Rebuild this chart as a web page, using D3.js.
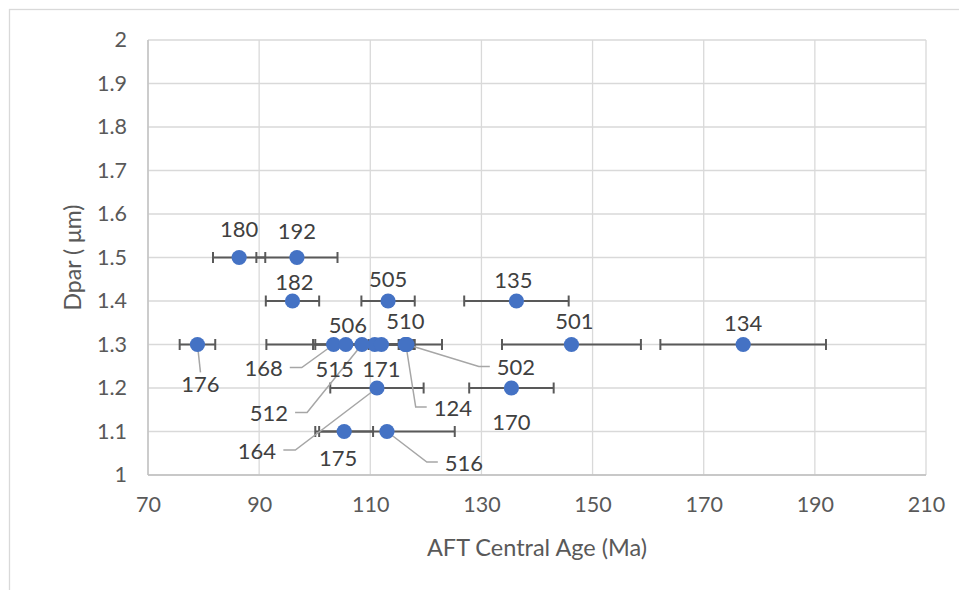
<!DOCTYPE html>
<html>
<head>
<meta charset="utf-8">
<script src="https://cdn.jsdelivr.net/npm/d3@7/dist/d3.min.js"></script>
<style>
  html, body { margin: 0; padding: 0; background: #ffffff; }
  svg { display: block; font-family: Lato, "Open Sans", "Noto Sans", sans-serif; }
</style>
</head>
<body>
<svg id="chart" width="959" height="590"></svg>
<script>
// Apatite fission-track samples: id, central age (Ma), ± age error (Ma), mean Dpar (µm)
const sampleIds = ["180", "192", "182", "505", "135", "176", "168", "515", "506", "512",
                   "171", "510", "502", "124", "501", "134", "164", "170", "175", "516"];
const centralAge = [86.4, 96.8, 96.0, 113.2, 136.3, 78.9, 103.4, 110.8, 105.6, 108.5,
                    112.0, 116.3, 116.6, 116.4, 146.2, 177.1, 111.2, 135.4, 105.3, 113.0];
const ageError   = [4.7, 7.3, 4.8, 4.8, 9.4, 3.2, 12.1, 4.5, 5.9, 8.4,
                    3.5, 6.6, 1.4, 1.3, 12.5, 14.9, 8.4, 7.6, 5.2, 12.2];
const dpar       = [1.5, 1.5, 1.4, 1.4, 1.4, 1.3, 1.3, 1.3, 1.3, 1.3,
                    1.3, 1.3, 1.3, 1.3, 1.3, 1.3, 1.2, 1.2, 1.1, 1.1];

const xTicks = [70, 90, 110, 130, 150, 170, 190, 210];
const yTicks = [1, 1.1, 1.2, 1.3, 1.4, 1.5, 1.6, 1.7, 1.8, 1.9, 2];

// Label placement (pixel offset of the label centre from its point) and leader style
const labelPlacement = {
  "180": { dx: 0,    dy: -28 },
  "192": { dx: 0,    dy: -26 },
  "182": { dx: 2,    dy: -19 },
  "505": { dx: 0,    dy: -22 },
  "135": { dx: -3,   dy: -21 },
  "176": { dx: 3,    dy: 40,  leader: "top" },
  "168": { dx: -70,  dy: 24,  leader: "right" },
  "515": { dx: -40,  dy: 25 },
  "506": { dx: 2,    dy: -19 },
  "512": { dx: -93,  dy: 69,  leader: "right" },
  "171": { dx: 0,    dy: 25 },
  "510": { dx: 0,    dy: -23.5 },
  "502": { dx: 109,  dy: 23,  leader: "left" },
  "124": { dx: 47,   dy: 63.5, leader: "left" },
  "501": { dx: 3,    dy: -23 },
  "134": { dx: 0,    dy: -21.5 },
  "164": { dx: -120, dy: 63,  leader: "right" },
  "170": { dx: 0,    dy: 34 },
  "175": { dx: -6,   dy: 26.5 },
  "516": { dx: 77,   dy: 31.5, leader: "left" }
};

const samples = sampleIds.map((id, i) => ({
  id, age: centralAge[i], err: ageError[i], dpar: dpar[i]
}));

const W = 959, H = 590;
const plot = { left: 148, right: 926, top: 40, bottom: 475 };

const svg = d3.select("#chart");

// outer chart frame
svg.append("rect")
  .attr("x", 9.5).attr("y", 9.5)
  .attr("width", W + 20).attr("height", H + 20)
  .attr("fill", "#ffffff").attr("stroke", "#d9d9d9").attr("stroke-width", 1.3);

const x = d3.scaleLinear().domain([70, 210]).range([plot.left, plot.right]);
const y = d3.scaleLinear().domain([1, 2]).range([plot.bottom, plot.top]);

// gridlines
const grid = svg.append("g").attr("stroke", "#d9d9d9").attr("stroke-width", 1.3);
grid.selectAll("line.v").data(xTicks).join("line")
  .attr("class", "v")
  .attr("x1", d => x(d)).attr("x2", d => x(d))
  .attr("y1", plot.top).attr("y2", plot.bottom);
grid.selectAll("line.h").data(yTicks).join("line")
  .attr("class", "h")
  .attr("x1", plot.left).attr("x2", plot.right)
  .attr("y1", d => y(d)).attr("y2", d => y(d));

// axis lines
svg.append("line")
  .attr("x1", plot.left).attr("x2", plot.left)
  .attr("y1", plot.top).attr("y2", plot.bottom)
  .attr("stroke", "#bfbfbf").attr("stroke-width", 1.3);
svg.append("line")
  .attr("x1", plot.left).attr("x2", plot.right)
  .attr("y1", plot.bottom).attr("y2", plot.bottom)
  .attr("stroke", "#bfbfbf").attr("stroke-width", 1.3);

// axes (tick labels only)
const fmt = d3.format("~g");
const xAxis = svg.append("g")
  .attr("transform", `translate(0,${plot.bottom})`)
  .call(d3.axisBottom(x).tickValues(xTicks).tickFormat(fmt).tickSize(0).tickPadding(22));
const yAxis = svg.append("g")
  .attr("transform", `translate(${plot.left},0)`)
  .call(d3.axisLeft(y).tickValues(yTicks).tickFormat(fmt).tickSize(0).tickPadding(21));
[xAxis, yAxis].forEach(g => {
  g.select(".domain").remove();
  g.selectAll("text")
    .attr("fill", "#595959")
    .style("font-size", "21.5px")
    .style("font-family", "Lato, 'Open Sans', sans-serif");
});

// axis titles
svg.append("text")
  .attr("x", (plot.left + plot.right) / 2).attr("y", 548)
  .attr("dy", "0.35em")
  .attr("text-anchor", "middle")
  .attr("fill", "#595959")
  .style("font-size", "23.5px")
  .text("AFT Central Age (Ma)");
svg.append("text")
  .attr("transform", `translate(73,${(plot.top + plot.bottom) / 2}) rotate(-90)`)
  .attr("dy", "0.35em")
  .attr("text-anchor", "middle")
  .attr("fill", "#595959")
  .style("font-size", "23px")
  .text("Dpar ( μm)");

// horizontal error bars
const capHalf = 5.5;
const bars = svg.append("g")
  .attr("stroke", "#595959").attr("stroke-width", 2).attr("fill", "none");
samples.forEach(s => {
  const cy = y(s.dpar), x0 = x(s.age - s.err), x1 = x(s.age + s.err);
  bars.append("line").attr("x1", x0).attr("x2", x1).attr("y1", cy).attr("y2", cy);
  bars.append("line").attr("x1", x0).attr("x2", x0).attr("y1", cy - capHalf).attr("y2", cy + capHalf);
  bars.append("line").attr("x1", x1).attr("x2", x1).attr("y1", cy - capHalf).attr("y2", cy + capHalf);
});

// data labels and leader lines
const leaders = svg.append("g")
  .attr("stroke", "#a6a6a6").attr("stroke-width", 1.5).attr("fill", "none");
const labels = svg.append("g")
  .attr("fill", "#404040")
  .style("font-size", "22px");

samples.forEach(s => {
  const p = labelPlacement[s.id] || { dx: 0, dy: -21 };
  const px = x(s.age), py = y(s.dpar);
  const lx = px + p.dx, ly = py + p.dy;
  const t = labels.append("text")
    .attr("x", lx).attr("y", ly)
    .attr("dy", "0.36em")
    .attr("text-anchor", "middle")
    .text(s.id);
  if (p.leader) {
    const b = t.node().getBBox();
    let pts;
    if (p.leader === "right") {
      const sx = b.x + b.width + 7;
      pts = [[sx, ly - 1], [sx + 12, ly - 1], [px, py]];
    } else if (p.leader === "left") {
      const sx = b.x - 7;
      pts = [[sx, ly - 1], [sx - 11, ly - 1], [px, py]];
    } else {
      pts = [[lx, b.y + 2], [px, py]];
    }
    leaders.append("path").attr("d", d3.line()(pts));
  }
});

// markers
svg.append("g").selectAll("circle").data(samples).join("circle")
  .attr("cx", d => x(d.age))
  .attr("cy", d => y(d.dpar))
  .attr("r", 7.6)
  .attr("fill", "#4472c4");

// bring labels above markers
labels.raise();
</script>
</body>
</html>
